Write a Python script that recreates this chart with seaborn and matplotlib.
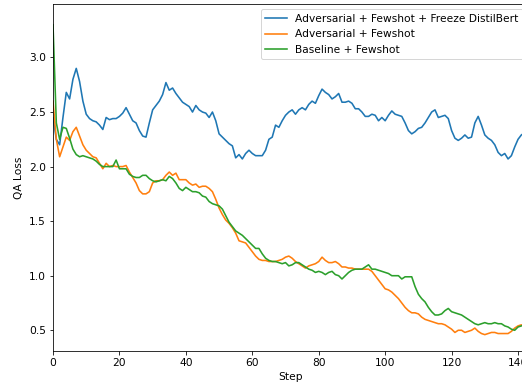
import matplotlib
matplotlib.use('Agg')
import matplotlib.pyplot as plt
import pandas as pd
import numpy as np
import seaborn as sns

# QA loss per step
freeze_loss = [
    2.45, 2.25, 2.20, 2.45, 2.68, 2.62, 2.80, 2.90, 2.78, 2.60,
    2.48, 2.44, 2.42, 2.41, 2.38, 2.34, 2.45, 2.43, 2.44, 2.44,
    2.46, 2.49, 2.54, 2.48, 2.42, 2.40, 2.33, 2.28, 2.27, 2.40,
    2.52, 2.56, 2.60, 2.66, 2.77, 2.70, 2.72, 2.67, 2.63, 2.59,
    2.57, 2.55, 2.50, 2.56, 2.52, 2.50, 2.49, 2.45, 2.50, 2.42,
    2.30, 2.27, 2.24, 2.21, 2.19, 2.08, 2.11, 2.07, 2.12, 2.15,
    2.12, 2.10, 2.10, 2.10, 2.15, 2.25, 2.27, 2.38, 2.36, 2.42,
    2.47, 2.50, 2.52, 2.48, 2.52, 2.54, 2.52, 2.57, 2.60, 2.58,
    2.65, 2.71, 2.68, 2.66, 2.62, 2.64, 2.67, 2.59, 2.59, 2.60,
    2.58, 2.53, 2.53, 2.50, 2.46, 2.46, 2.48, 2.47, 2.42, 2.45,
    2.42, 2.47, 2.51, 2.48, 2.47, 2.46, 2.40, 2.33, 2.30, 2.32,
    2.35, 2.36, 2.40, 2.45, 2.50, 2.52, 2.45, 2.46, 2.47, 2.44,
    2.33, 2.26, 2.24, 2.26, 2.29, 2.26, 2.27, 2.40, 2.46, 2.38,
    2.29, 2.26, 2.24, 2.20, 2.13, 2.10, 2.12, 2.07, 2.10, 2.18,
    2.25, 2.29, 2.31,
]
adv_loss = [
    2.60, 2.25, 2.09, 2.18, 2.27, 2.24, 2.32, 2.36, 2.28, 2.20,
    2.15, 2.12, 2.09, 2.08, 2.03, 1.98, 2.03, 2.00, 2.01, 2.00,
    2.00, 2.00, 2.01, 1.95, 1.90, 1.85, 1.78, 1.75, 1.75, 1.77,
    1.85, 1.87, 1.87, 1.88, 1.92, 1.95, 1.92, 1.94, 1.88, 1.88,
    1.88, 1.85, 1.83, 1.84, 1.81, 1.82, 1.82, 1.80, 1.77, 1.70,
    1.62, 1.56, 1.51, 1.48, 1.44, 1.39, 1.32, 1.31, 1.30, 1.26,
    1.22, 1.18, 1.15, 1.14, 1.14, 1.13, 1.13, 1.13, 1.14, 1.15,
    1.17, 1.18, 1.16, 1.13, 1.11, 1.09, 1.07, 1.09, 1.10, 1.11,
    1.13, 1.17, 1.14, 1.12, 1.12, 1.13, 1.11, 1.08, 1.08, 1.07,
    1.07, 1.06, 1.06, 1.06, 1.06, 1.06, 1.04, 1.00, 0.96, 0.92,
    0.88, 0.87, 0.85, 0.82, 0.79, 0.75, 0.71, 0.68, 0.66, 0.66,
    0.65, 0.62, 0.60, 0.59, 0.58, 0.57, 0.56, 0.56, 0.55, 0.53,
    0.51, 0.48, 0.50, 0.50, 0.48, 0.49, 0.50, 0.52, 0.49, 0.47,
    0.46, 0.47, 0.48, 0.48, 0.47, 0.47, 0.47, 0.47, 0.49, 0.52,
    0.54, 0.55, 0.53,
]
base_loss = [
    3.30, 2.40, 2.25, 2.36, 2.35, 2.26, 2.16, 2.11, 2.09, 2.10,
    2.09, 2.08, 2.07, 2.05, 2.02, 2.00, 2.00, 2.00, 2.00, 2.06,
    1.98, 1.98, 1.98, 1.93, 1.91, 1.90, 1.90, 1.92, 1.92, 1.89,
    1.87, 1.86, 1.87, 1.88, 1.87, 1.91, 1.89, 1.85, 1.80, 1.78,
    1.81, 1.79, 1.77, 1.77, 1.76, 1.73, 1.72, 1.68, 1.66, 1.65,
    1.64, 1.61, 1.55, 1.49, 1.45, 1.41, 1.39, 1.37, 1.34, 1.31,
    1.28, 1.25, 1.25, 1.20, 1.16, 1.14, 1.13, 1.13, 1.12, 1.11,
    1.12, 1.09, 1.10, 1.12, 1.12, 1.10, 1.08, 1.06, 1.05, 1.03,
    1.04, 1.03, 1.01, 1.03, 1.04, 1.01, 1.00, 0.97, 1.00, 1.03,
    1.05, 1.06, 1.06, 1.06, 1.08, 1.10, 1.06, 1.06, 1.05, 1.04,
    1.03, 1.02, 1.00, 1.00, 1.00, 0.97, 0.99, 0.99, 0.99, 0.90,
    0.83, 0.79, 0.76, 0.71, 0.67, 0.64, 0.64, 0.65, 0.68, 0.70,
    0.67, 0.66, 0.65, 0.64, 0.62, 0.60, 0.58, 0.56, 0.55, 0.56,
    0.57, 0.56, 0.56, 0.57, 0.56, 0.56, 0.54, 0.53, 0.51, 0.50,
    0.53, 0.54, 0.55,
]
steps = list(range(len(freeze_loss)))

labels = ['Adversarial + Fewshot + Freeze DistilBert',
          'Adversarial + Fewshot',
          'Baseline + Fewshot']
colors = ['#1f77b4', '#ff7f0e', '#2ca02c']

plt.rcParams['font.size'] = 10.6

fig = plt.figure(figsize=(522 / 72, 383 / 72), dpi=72)
# axes run past the right edge, like the cropped original
ax = fig.add_axes([53 / 522, 32 / 383, 475 / 522, 347 / 383])

for y, lab, c in zip([freeze_loss, adv_loss, base_loss], labels, colors):
    sns.lineplot(x=steps, y=y, label=lab, color=c, linewidth=1.6, ax=ax)

ax.set_xlim(0, 143)
ax.set_ylim(0.31, 3.49)
ax.set_xticks([0, 20, 40, 60, 80, 100, 120, 140])
ax.set_yticks([0.5, 1.0, 1.5, 2.0, 2.5, 3.0])
ax.set_xlabel('Step')
ax.set_ylabel('QA Loss', labelpad=5)
ax.legend(loc='upper right', labelspacing=0.55)

fig.savefig('out.png', dpi=72)
